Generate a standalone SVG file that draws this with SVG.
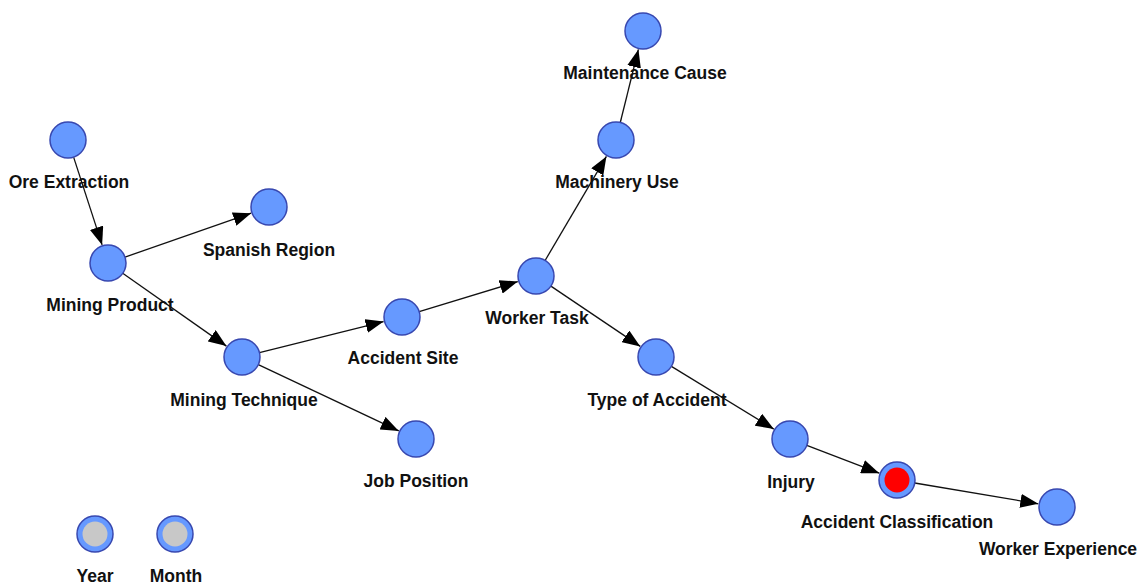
<svg xmlns="http://www.w3.org/2000/svg" width="1144" height="586" viewBox="0 0 1144 586">
<style>
.n{fill:#6699FF;stroke:#3848B0;stroke-width:1.5}
.t{font-family:"Liberation Sans",Arial,sans-serif;font-weight:bold;font-size:17.5px;fill:#111;text-anchor:middle}
.e{stroke:#111;stroke-width:1.3;fill:none}
</style>
<defs>
<marker id="a" markerUnits="userSpaceOnUse" markerWidth="18" markerHeight="14" refX="18" refY="7" orient="auto"><path d="M0,0 L18,7 L0,14 z" fill="#000"/></marker>
</defs>
<rect width="1144" height="586" fill="#fff"/>
<g id="edges">
<line class="e" x1="73.6" y1="157.1" x2="102.1" y2="244.9" marker-end="url(#a)"/>
<line class="e" x1="125" y1="257.1" x2="251.1" y2="213.2" marker-end="url(#a)"/>
<line class="e" x1="122.7" y1="273.3" x2="226.4" y2="346.1" marker-end="url(#a)"/>
<line class="e" x1="259.5" y1="352.6" x2="383.6" y2="321.6" marker-end="url(#a)"/>
<line class="e" x1="258.3" y1="364.7" x2="398.8" y2="430.9" marker-end="url(#a)"/>
<line class="e" x1="419.2" y1="311.7" x2="517.8" y2="281.6" marker-end="url(#a)"/>
<line class="e" x1="545.1" y1="260.5" x2="606.4" y2="156.4" marker-end="url(#a)"/>
<line class="e" x1="620.3" y1="122.5" x2="638.4" y2="49.4" marker-end="url(#a)"/>
<line class="e" x1="550.9" y1="286.1" x2="640.3" y2="346.4" marker-end="url(#a)"/>
<line class="e" x1="671.4" y1="366.4" x2="773.8" y2="429.1" marker-end="url(#a)"/>
<line class="e" x1="806.8" y1="445.4" x2="879.3" y2="473.2" marker-end="url(#a)"/>
<line class="e" x1="914.7" y1="483" x2="1038.3" y2="503.8" marker-end="url(#a)"/>
</g>
<g id="ore-extraction"><circle class="n" cx="68" cy="140" r="18"/><text class="t" x="69" y="188">Ore Extraction</text></g>
<g id="mining-product"><circle class="n" cx="108" cy="263" r="18"/><text class="t" x="110" y="311">Mining Product</text></g>
<g id="spanish-region"><circle class="n" cx="269" cy="207" r="18"/><text class="t" x="269" y="256">Spanish Region</text></g>
<g id="mining-technique"><circle class="n" cx="242" cy="357" r="18"/><text class="t" x="244" y="406">Mining Technique</text></g>
<g id="accident-site"><circle class="n" cx="402" cy="317" r="18"/><text class="t" x="403" y="364">Accident Site</text></g>
<g id="job-position"><circle class="n" cx="416" cy="439" r="18"/><text class="t" x="416" y="487">Job Position</text></g>
<g id="worker-task"><circle class="n" cx="536" cy="276" r="18"/><text class="t" x="537" y="324">Worker Task</text></g>
<g id="machinery-use"><circle class="n" cx="616" cy="140" r="18"/><text class="t" x="617" y="188">Machinery Use</text></g>
<g id="maintenance-cause"><circle class="n" cx="643" cy="31" r="18"/><text class="t" x="645" y="79">Maintenance Cause</text></g>
<g id="type-of-accident"><circle class="n" cx="656" cy="357" r="18"/><text class="t" x="657" y="406">Type of Accident</text></g>
<g id="injury"><circle class="n" cx="790" cy="439" r="18"/><text class="t" x="791" y="488">Injury</text></g>
<g id="accident-classification"><circle class="n" cx="897" cy="480" r="18"/><circle cx="897" cy="480" r="12.5" fill="#FF0000"/><text class="t" x="897" y="528">Accident Classification</text></g>
<g id="worker-experience"><circle class="n" cx="1057" cy="507" r="18"/><text class="t" x="1058" y="555">Worker Experience</text></g>
<g id="year"><circle class="n" cx="95" cy="534" r="18"/><circle cx="95" cy="534" r="12.5" fill="#C8C8C8"/><text class="t" x="95" y="582">Year</text></g>
<g id="month"><circle class="n" cx="175" cy="534" r="18"/><circle cx="175" cy="534" r="12.5" fill="#C8C8C8"/><text class="t" x="176" y="582">Month</text></g>
</svg>
